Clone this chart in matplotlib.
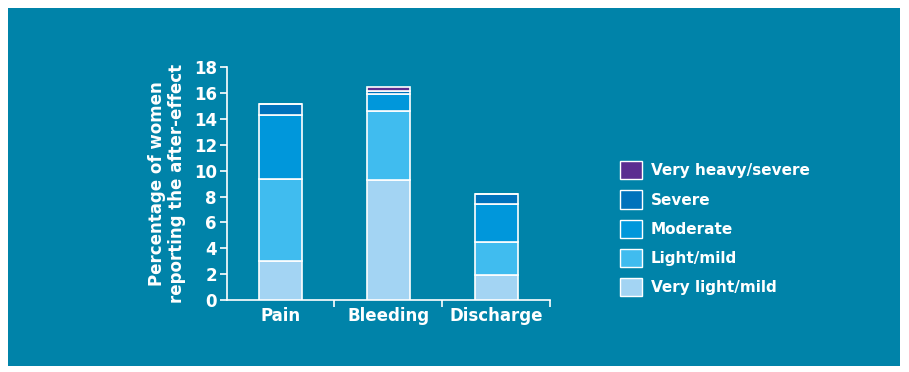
import matplotlib.pyplot as plt
from matplotlib.patches import Rectangle, Patch
import numpy as np

# data (percent of women)
categories = ['Pain', 'Bleeding', 'Discharge']
levels = ['Very light/mild', 'Light/mild', 'Moderate', 'Severe', 'Very heavy/severe']
very_light = [3.0, 9.3, 1.9]
light = [6.4, 5.3, 2.6]
moderate = [4.9, 1.3, 2.9]
severe = [0.9, 0.3, 0.8]
very_heavy = [0.0, 0.25, 0.0]
yticks = [0, 2, 4, 6, 8, 10, 12, 14, 16, 18]

colors = ['#a3d4f3', '#40bcef', '#0097db', '#0072bc', '#5b2d90']
bg = '#0083a9'

plt.rcParams['font.family'] = ['DejaVu Sans']
plt.rcParams['font.weight'] = 'bold'

fig = plt.figure(figsize=(9.09, 3.72), dpi=100)
fig.patch.set_facecolor('white')
# teal panel inside a thin white frame
fig.patches.append(Rectangle((8 / 909, 6 / 372), 892 / 909, 358 / 372,
                             transform=fig.transFigure, facecolor=bg,
                             edgecolor='none', zorder=-1))

ax = fig.add_axes([0.2494, 0.1935, 0.3556, 0.6255])
ax.set_facecolor('none')
ax.set_zorder(2)

x = np.arange(len(categories))
bottom = np.zeros(len(categories))
series = [very_light, light, moderate, severe, very_heavy]
for vals, col, lab in zip(series, colors, levels):
    vals = np.array(vals)
    ax.bar(x, vals, 0.4, bottom=bottom, color=col, edgecolor='white',
           linewidth=1.2, label=lab, zorder=3)
    bottom += vals

ax.set_xlim(-0.5, 2.5)
ax.set_ylim(0, 18)
ax.set_yticks(yticks)
ax.set_xticks(x)
ax.set_xticklabels(categories)
ax.set_xticks([0.5, 1.5, 2.5], minor=True)

for s in ['top', 'right']:
    ax.spines[s].set_visible(False)
for s in ['left', 'bottom']:
    ax.spines[s].set_color('white')
    ax.spines[s].set_linewidth(1.2)

ax.tick_params(axis='y', colors='white', labelsize=12, length=5, width=1.2, pad=2)
ax.tick_params(axis='x', which='major', colors='white', labelsize=12, length=0, pad=5)
ax.tick_params(axis='x', which='minor', colors='white', length=5, width=1.2)
for lbl in ax.get_xticklabels() + ax.get_yticklabels():
    lbl.set_fontweight('bold')

ax.set_ylabel('Percentage of women\nreporting the after-effect', color='white',
              fontsize=12, fontweight='bold', labelpad=6, linespacing=1.1)

handles = [Patch(facecolor=c, edgecolor='white', linewidth=1.0, label=l)
           for c, l in zip(colors, levels)][::-1]
leg = fig.legend(handles=handles, loc='upper left', bbox_to_anchor=(0.675, 0.583),
                 frameon=False, fontsize=11, handlelength=1.45, handleheight=1.45,
                 labelspacing=0.72, handletextpad=0.6, borderaxespad=0)
for t in leg.get_texts():
    t.set_color('white')
    t.set_fontweight('bold')

fig.savefig('out.png', dpi=100, facecolor='white')
